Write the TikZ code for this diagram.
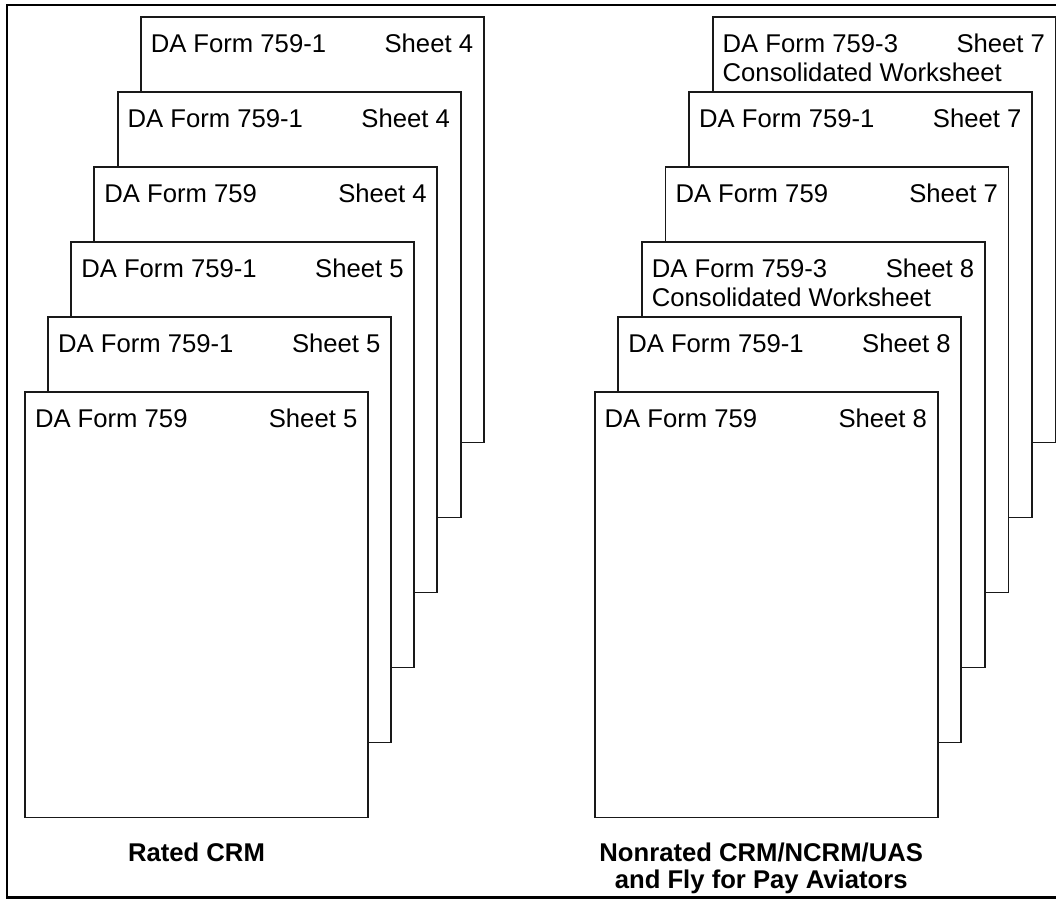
\documentclass[tikz,border=0pt]{standalone}
\usepackage{fontspec}
\setmainfont{Liberation Sans}
\usetikzlibrary{positioning, calc}
\tikzset{
  sheet/.style={draw=black!90, fill=white, line width=1.1pt, anchor=north west,
                minimum width=6.86cm, minimum height=8.51cm, inner sep=0, outer sep=0}
}

\begin{document}
\begin{tikzpicture}[
  % text printed on a sheet
  formtxt/.style  = {font=\fontsize{14.6}{16.7}\selectfont, inner sep=0, outer sep=0},
  % caption under each stack
  grouptxt/.style = {font=\fontsize{14.6}{15.6}\selectfont\bfseries, align=center,
                     inner sep=0, outer sep=0},
]
\useasboundingbox (0,0) rectangle (21.12,-17.98);

% ───────────────────────
%  Frame (right side runs off the page)
% ───────────────
\draw[line width=1.7pt] (21.5,-0.10) -- (0.14,-0.10) -- (0.14,-17.95) -- (21.5,-17.95);

% ═══════════════════════
%  LEFT STACK – rated crewmembers, back sheet first
% ═══════════════
\begin{scope}[xshift=0.5cm, yshift=-7.84cm]

  \foreach \i/\form/\sht in {6/759-1/4, 5/759-1/4, 4/759/4,
                             3/759-1/5, 2/759-1/5, 1/759/5} {
    \node[sheet] (rated\i) at ({0.463*(\i-1)},{1.5*(\i-1)}) {};
    \node[formtxt, anchor=base west] (rated\i-form)
      at ([shift={(0.2,-0.70)}]rated\i.north west) {DA Form \form};
    \node[formtxt, anchor=base east] (rated\i-sheet)
      at ([shift={(-0.214,-0.70)}]rated\i.north east) {Sheet \sht};
  }

  \node[grouptxt, below=0.5cm of rated1] (rated-title) {Rated CRM};

\end{scope}

% ═══════════════════════
%  RIGHT STACK – nonrated / NCRM / UAS, back sheet first
% ═══════════════
\begin{scope}[xshift=11.894cm, yshift=-7.84cm]

  \foreach \i/\form/\sht in {6/759-3/7, 5/759-1/7, 4/759/7,
                             3/759-3/8, 2/759-1/8, 1/759/8} {
    \node[sheet] (nonrated\i) at ({0.472*(\i-1)},{1.5*(\i-1)}) {};
    \node[formtxt, anchor=base west] (nonrated\i-form)
      at ([shift={(0.2,-0.70)}]nonrated\i.north west) {DA Form \form};
    \node[formtxt, anchor=base east] (nonrated\i-sheet)
      at ([shift={(-0.214,-0.70)}]nonrated\i.north east) {Sheet \sht};
  }

  % second line on the 759-3 sheets
  \foreach \i in {6,3}
    \node[formtxt, anchor=base west] (nonrated\i-cons)
      at ([yshift=-0.586cm]nonrated\i-form.base west) {Consolidated Worksheet};

  \node[grouptxt, below=0.5cm of nonrated1, xshift=-0.1cm] (nonrated-title)
    {Nonrated CRM/NCRM/UAS\\and Fly for Pay Aviators};

\end{scope}

\end{tikzpicture}
\end{document}
